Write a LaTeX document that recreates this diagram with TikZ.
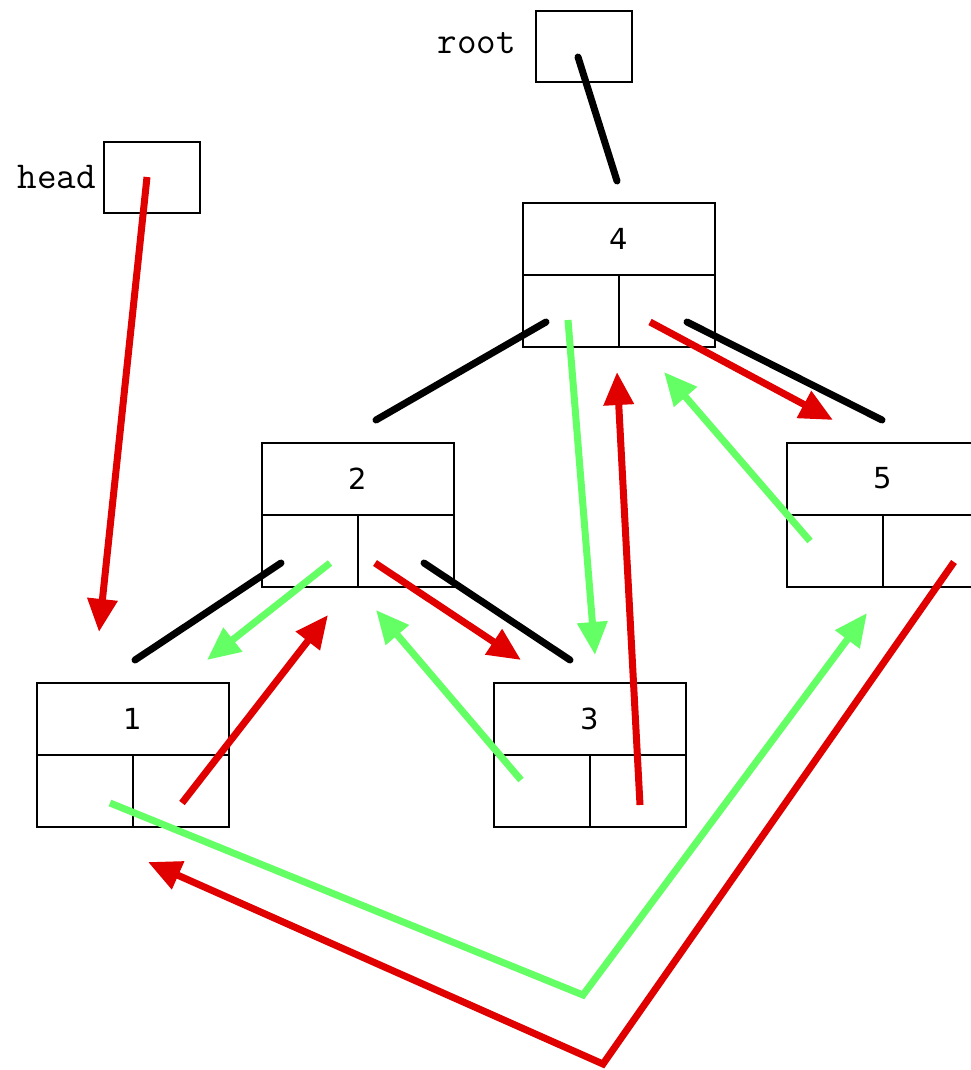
\documentclass[tikz,border=0pt]{standalone}
\usepackage{fontspec}
\newfontfamily\digitfont{DejaVu Sans}
\usetikzlibrary{arrows.meta,calc}
\definecolor{ptrred}{RGB}{224,0,0}
\definecolor{ptrgreen}{RGB}{100,255,100}
\tikzset{
  treenode/.style={draw=black,line width=2pt,minimum width=192pt,minimum height=144pt,inner sep=0pt},
  varbox/.style={draw=black,line width=2pt,minimum width=96pt,minimum height=71pt,inner sep=0pt},
  divider/.style={draw=black,line width=2pt},
  varlbl/.style={font=\ttfamily\fontsize{38}{38}\selectfont,inner sep=0pt},
  keylbl/.style={font=\digitfont\fontsize{29}{29}\selectfont,inner sep=0pt},
  link/.style={line width=7pt,black,line cap=round},
  redptr/.style={line width=7pt,ptrred,-{Triangle[length=33pt,width=29pt]}},
  greenptr/.style={line width=7pt,ptrgreen,-{Triangle[length=33pt,width=29pt]}},
}
\newcommand{\treecells}[2]{%
  \draw[divider] (#1.west) -- (#1.east);
  \draw[divider] (#1.center) -- (#1.south);
  \node[keylbl] (#1key) at ($(#1.north)!0.5!(#1.center)$) {#2};
}
\begin{document}
\begin{tikzpicture}[x=1pt,y=-1pt]
\useasboundingbox (0,0) rectangle (971,1070);
\fill[white] (0,0) rectangle (971,1070);

% variable boxes
\node[varbox] (root) at (584,46.5) {};
\node[varlbl,anchor=east] (rootlbl) at (516,43) {root};
\node[varbox] (head) at (152,177) {};
\node[varlbl,anchor=east] (headlbl) at (96,177) {head};

% tree nodes
\node[treenode] (n4) at (619,275) {};
\treecells{n4}{4}
\node[treenode] (n2) at (358,515) {};
\treecells{n2}{2}
\node[treenode] (n5) at (883,515) {};
\treecells{n5}{5}
\node[treenode] (n1) at (133,755) {};
\treecells{n1}{1}
\node[treenode] (n3) at (590,755) {};
\treecells{n3}{3}

% endpoints
\coordinate (rootS) at (578,57);   \coordinate (rootE) at (617,181);
\coordinate (b4L) at (546,322);    \coordinate (b2T) at (376,420);
\coordinate (b4R) at (687,322);    \coordinate (b5T) at (882,420);
\coordinate (b2L) at (281,563);    \coordinate (b1T) at (135,660);
\coordinate (b2R) at (424,563);    \coordinate (b3T) at (570,660);

\coordinate (headS) at (147,177);  \coordinate (headE) at (99,632);
\coordinate (r4S) at (650,322);    \coordinate (r4E) at (833,420);
\coordinate (r2S) at (375,563);    \coordinate (r2E) at (521,660);
\coordinate (r1S) at (182,803);    \coordinate (r1E) at (328,615);
\coordinate (r3S) at (640,805);    \coordinate (r3E) at (617,372);
\coordinate (r5S) at (954,562);    \coordinate (r5M) at (603,1064);  \coordinate (r5E) at (148,862);

\coordinate (g4S) at (568,320);    \coordinate (g4E) at (595,655);
\coordinate (g5S) at (810,541);    \coordinate (g5E) at (664,372);
\coordinate (g2S) at (330,563);    \coordinate (g2E) at (207,660);
\coordinate (g3S) at (521,780);    \coordinate (g3E) at (376,610);
\coordinate (g1S) at (110,803);    \coordinate (g1M) at (583,995);   \coordinate (g1E) at (867,613);

% tree links
\draw[link] (rootS) -- (rootE);
\draw[link] (b4L) -- (b2T);
\draw[link] (b4R) -- (b5T);
\draw[link] (b2L) -- (b1T);
\draw[link] (b2R) -- (b3T);

% green thread (predecessor)
\draw[greenptr] (g4S) -- (g4E);
\draw[greenptr] (g5S) -- (g5E);
\draw[greenptr] (g2S) -- (g2E);
\draw[greenptr] (g3S) -- (g3E);
\draw[greenptr] (g1S) -- (g1M) -- (g1E);

% red thread (successor)
\draw[redptr] (headS) -- (headE);
\draw[redptr] (r4S) -- (r4E);
\draw[redptr] (r2S) -- (r2E);
\draw[redptr] (r1S) -- (r1E);
\draw[redptr] (r3S) -- (r3E);
\draw[redptr] (r5S) -- (r5M) -- (r5E);
\end{tikzpicture}
\end{document}
